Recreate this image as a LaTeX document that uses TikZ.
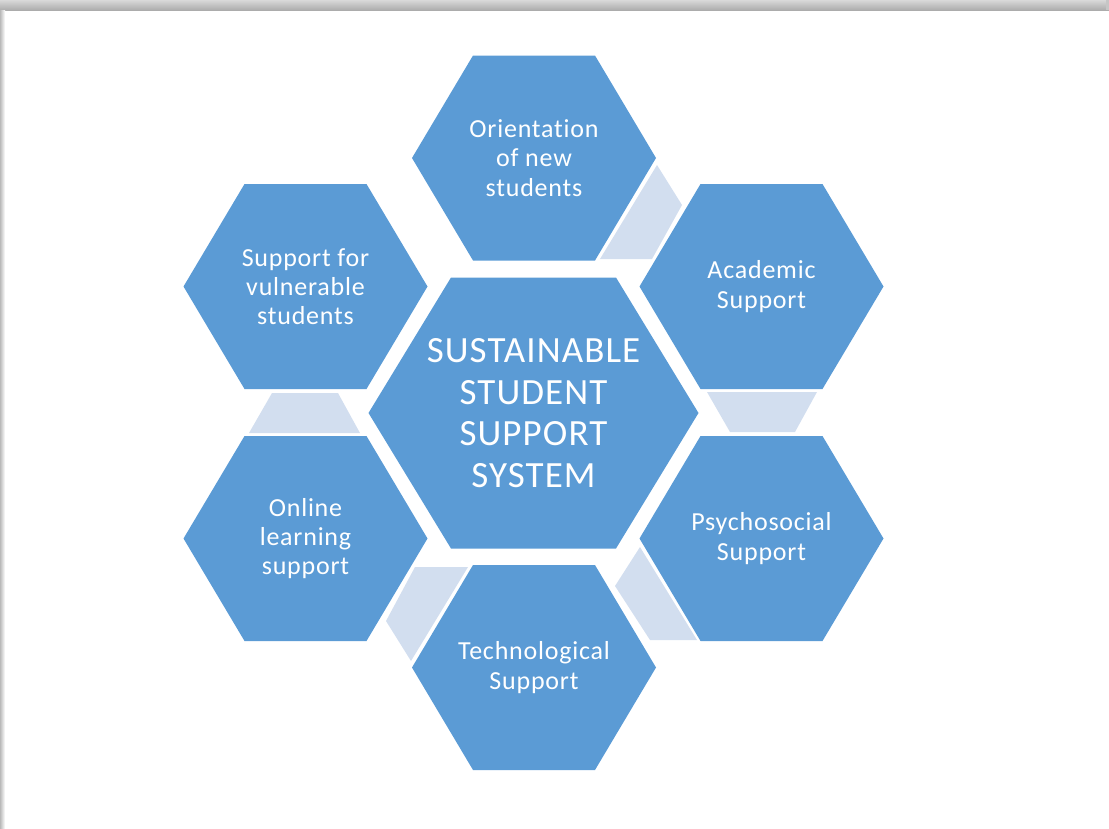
\documentclass[tikz,border=0pt]{standalone}
\usepackage{fontspec}
\setmainfont{Carlito}[Ligatures=NoCommon, LetterSpace=3]
\definecolor{hexblue}{HTML}{5B9BD5}
\definecolor{linkblue}{HTML}{D2DEEF}
\newcommand{\hexat}[3]{\fill[hexa, shift={(#1)}] (-#2,0) -- (-#2/2,#3) -- (#2/2,#3) -- (#2,0) -- (#2/2,-#3) -- (-#2/2,-#3) -- cycle;}
\begin{document}
\begin{tikzpicture}[x=1pt, y=-1pt, hexa/.style = {fill=hexblue}, link/.style = {fill=linkblue},
        lbl/.style = {text=white, align=center, font=\fontsize{26}{29.3}\selectfont},
        hub/.style = {text=white, align=center, font=\fontsize{37}{41.7}\selectfont}]
        \useasboundingbox (0,0) rectangle (1109,828);
        % page shadow
        \shade[top color=gray!30, bottom color=gray!65] (0,0) rectangle (1109,10);
        \shade[left color=gray!55, right color=white] (0,10) rectangle (5,828);
        \fill[gray!45] (1106,0) rectangle (1109,10);
        % links
        \fill[link] (657,165) -- (682,205) -- (652,259) -- (600,259) -- cycle;
        \fill[link] (707,392) -- (817,392) -- (795,432) -- (730,432) -- cycle;
        \fill[link] (640,547) -- (697,640) -- (650,640) -- (615,586) -- cycle;
        \fill[link] (415,567) -- (468,567) -- (411,661) -- (386,621) -- cycle;
        \fill[link] (272,393) -- (338,393) -- (360,433) -- (249,433) -- cycle;
        % hexagons
        \coordinate (c0) at (533.5,413);
        \coordinate (c1) at (534,158);
        \coordinate (c2) at (761.5,286.5);
        \coordinate (c3) at (761.5,538.5);
        \coordinate (c4) at (534,667.5);
        \coordinate (c5) at (305.5,538.5);
        \coordinate (c6) at (305.5,286.5);
        \hexat{c0}{165}{135.5}
        \hexat{c1}{122}{102.5}
        \hexat{c2}{122}{102.5}
        \hexat{c3}{122}{102.5}
        \hexat{c4}{122}{102.5}
        \hexat{c5}{122}{102.5}
        \hexat{c6}{122}{102.5}
        \node[hub] at (c0) (0) {SUSTAINABLE\\STUDENT\\SUPPORT\\SYSTEM};
        \node[lbl] at (c1) (1) {Orientation\\of new\\students};
        \node[lbl] at (c2) (2) {Academic\\Support};
        \node[lbl] at (c3) (3) {Psychosocial\\Support};
        \node[lbl] at (c4) (4) {Technological\\Support};
        \node[lbl] at (c5) (5) {Online\\learning\\support};
        \node[lbl] at (c6) (6) {Support for\\vulnerable\\students};
    \end{tikzpicture}
\end{document}
